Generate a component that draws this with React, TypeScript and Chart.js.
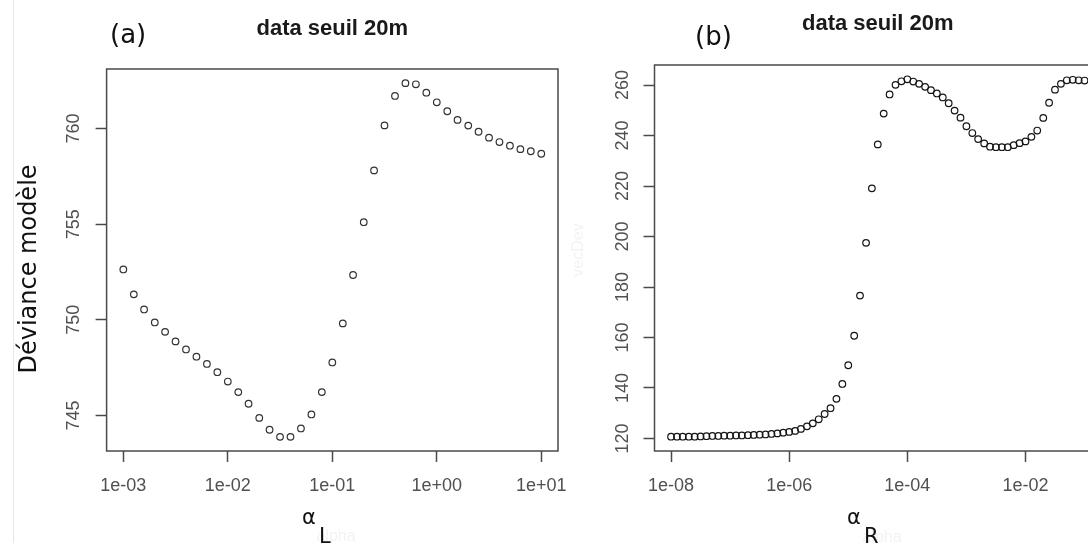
import React, { useEffect, useRef } from 'react';
import { Chart, registerables } from 'chart.js';

Chart.register(...registerables);

// ---------- data ----------
const alphaL = [
  0.001, 0.00126, 0.00158, 0.002, 0.00251, 0.00316, 0.00398, 0.00501, 0.00631, 0.00794,
  0.01, 0.0126, 0.0158, 0.02, 0.0251, 0.0316, 0.0398, 0.0501, 0.0631, 0.0794,
  0.1, 0.126, 0.158, 0.2, 0.251, 0.316, 0.398, 0.501, 0.631, 0.794,
  1, 1.26, 1.58, 2, 2.51, 3.16, 3.98, 5.01, 6.31, 7.94,
  10,
];
const devianceL = [
  752.63, 751.33, 750.54, 749.86, 749.37, 748.87, 748.45, 748.07, 747.69, 747.26,
  746.77, 746.22, 745.61, 744.87, 744.25, 743.88, 743.88, 744.32, 745.05, 746.22,
  747.77, 749.81, 752.34, 755.10, 757.81, 760.16, 761.70, 762.37, 762.31, 761.87,
  761.37, 760.90, 760.45, 760.15, 759.83, 759.52, 759.29, 759.10, 758.92, 758.81,
  758.68,
];

const alphaR = [
  1e-8, 1.26e-8, 1.58e-8, 2e-8, 2.51e-8, 3.16e-8, 3.98e-8, 5.01e-8, 6.31e-8, 7.94e-8,
  1e-7, 1.26e-7, 1.58e-7, 2e-7, 2.51e-7, 3.16e-7, 3.98e-7, 5.01e-7, 6.31e-7, 7.94e-7,
  1e-6, 1.26e-6, 1.58e-6, 2e-6, 2.51e-6, 3.16e-6, 3.98e-6, 5.01e-6, 6.31e-6, 7.94e-6,
  1e-5, 1.26e-5, 1.58e-5, 2e-5, 2.51e-5, 3.16e-5, 3.98e-5, 5.01e-5, 6.31e-5, 7.94e-5,
  1e-4, 1.26e-4, 1.58e-4, 2e-4, 2.51e-4, 3.16e-4, 3.98e-4, 5.01e-4, 6.31e-4, 7.94e-4,
  1e-3, 1.26e-3, 1.58e-3, 2e-3, 2.51e-3, 3.16e-3, 3.98e-3, 5.01e-3, 6.31e-3, 7.94e-3,
  1e-2, 1.26e-2, 1.58e-2, 2e-2, 2.51e-2, 3.16e-2, 3.98e-2, 5.01e-2, 6.31e-2, 7.94e-2,
  0.1,
];
const devianceR = [
  120.7, 120.7, 120.7, 120.7, 120.7, 120.8, 120.9, 121.0, 121.0, 121.1,
  121.1, 121.2, 121.2, 121.3, 121.4, 121.5, 121.6, 121.8, 122.0, 122.3,
  122.6, 123.0, 123.8, 124.8, 126.0, 127.6, 129.7, 132.0, 135.7, 141.6,
  149.0, 160.7, 176.6, 197.5, 219.1, 236.5, 248.7, 256.3, 260.1, 261.5,
  262.3, 261.4, 260.5, 259.3, 258.0, 256.7, 255.1, 252.8, 249.9, 247.1,
  243.7, 241.0, 238.6, 236.9, 235.6, 235.4, 235.4, 235.4, 236.2, 237.0,
  237.7, 239.5, 242.0, 247.0, 253.0, 258.2, 260.5, 261.9, 262.1, 261.9,
  261.8,
];

const xTicksL = [1e-3, 1e-2, 1e-1, 1, 10];
const xTicksR = [1e-8, 1e-6, 1e-4, 1e-2];
const yTicksL = [745, 750, 755, 760];
const yTicksR = [120, 140, 160, 180, 200, 220, 240, 260];

const TITLE = 'data seuil 20m';
const Y_LABEL = 'Déviance modèle';

// ---------- helpers ----------
const fmtSci = (v: number) => {
  const e = Math.round(Math.log10(v));
  return '1e' + (e < 0 ? '-' : '+') + String(Math.abs(e)).padStart(2, '0');
};

function rRange(vals: number[], log: boolean): [number, number] {
  const t = log ? vals.map((v) => Math.log10(v)) : vals;
  const lo = Math.min(...t);
  const hi = Math.max(...t);
  const d = (hi - lo) * 0.04;
  return log ? [Math.pow(10, lo - d), Math.pow(10, hi + d)] : [lo - d, hi + d];
}

const AXIS = '#4a4a4a';
const TICKTXT = '#505050';
const H = 543;

type PanelSpec = {
  xs: number[];
  ys: number[];
  xTicks: number[];
  yTicks: number[];
  canvasW: number;
  yWidth: number;
  padTop: number;
  padRight: number;
  yPad: number;
  mark: string;
  annotate: (ctx: CanvasRenderingContext2D, area: any) => void;
};

function makeConfig(p: PanelSpec): any {
  const [xmin, xmax] = rRange(p.xs, true);
  const [ymin, ymax] = rRange(p.ys, false);
  const tickFont = { family: 'Liberation Sans', size: 18 };
  const noOverhang = (s: any) => {
    s.paddingLeft = 0;
    s.paddingRight = 0;
    s.paddingTop = 0;
    s.paddingBottom = 0;
  };
  return {
    type: 'scatter',
    data: {
      datasets: [
        {
          data: p.xs.map((x, i) => ({ x, y: p.ys[i] })),
          pointStyle: 'circle',
          pointRadius: 3.3,
          pointHoverRadius: 3.3,
          pointBorderWidth: 1.2,
          borderColor: p.mark,
          backgroundColor: 'rgba(0,0,0,0)',
          showLine: false,
        },
      ],
    },
    options: {
      responsive: false,
      animation: false,
      devicePixelRatio: 1,
      events: [],
      layout: { padding: { left: 0, top: p.padTop, right: p.padRight, bottom: 0 } },
      plugins: { legend: { display: false }, tooltip: { enabled: false }, title: { display: false } },
      scales: {
        x: {
          type: 'logarithmic',
          position: 'bottom',
          bounds: 'data',
          min: xmin,
          max: xmax,
          afterBuildTicks: (s: any) => {
            s.ticks = p.xTicks.map((v) => ({ value: v }));
          },
          afterFit: (s: any) => {
            s.height = H - 451;
            noOverhang(s);
          },
          ticks: {
            callback: (v: any) => fmtSci(Number(v)),
            font: tickFont,
            color: TICKTXT,
            padding: 13,
            autoSkip: false,
            maxRotation: 0,
            minRotation: 0,
          },
          grid: {
            display: true,
            drawOnChartArea: false,
            drawTicks: true,
            tickLength: 11,
            tickColor: AXIS,
            tickWidth: 1.5,
          },
          border: { display: false },
        },
        y: {
          type: 'linear',
          position: 'left',
          bounds: 'data',
          min: ymin,
          max: ymax,
          afterBuildTicks: (s: any) => {
            s.ticks = p.yTicks.map((v) => ({ value: v }));
          },
          afterFit: (s: any) => {
            s.width = p.yWidth;
            noOverhang(s);
          },
          ticks: {
            callback: (v: any) => String(v),
            font: tickFont,
            color: TICKTXT,
            padding: p.yPad,
            minRotation: 90,
            maxRotation: 90,
            crossAlign: 'center',
            autoSkip: false,
          },
          grid: {
            display: true,
            drawOnChartArea: false,
            drawTicks: true,
            tickLength: 11,
            tickColor: AXIS,
            tickWidth: 1.5,
          },
          border: { display: false },
        },
      },
    },
    plugins: [
      {
        id: 'frameAndText',
        afterDraw(chart: any) {
          const ctx: CanvasRenderingContext2D = chart.ctx;
          const a = chart.chartArea;
          ctx.save();
          ctx.strokeStyle = AXIS;
          ctx.lineWidth = 1.5;
          ctx.strokeRect(a.left, a.top, a.right - a.left, a.bottom - a.top);
          ctx.restore();
          ctx.save();
          p.annotate(ctx, a);
          ctx.restore();
        },
      },
    ],
  };
}

function drawTitle(ctx: CanvasRenderingContext2D, a: any, baseline: number) {
  ctx.fillStyle = '#1a1a1a';
  ctx.font = 'bold 22px "Liberation Sans"';
  ctx.textAlign = 'center';
  ctx.textBaseline = 'alphabetic';
  ctx.fillText(TITLE, (a.left + a.right) / 2, baseline);
}

function drawAlpha(ctx: CanvasRenderingContext2D, x: number, sub: string) {
  ctx.fillStyle = '#111';
  ctx.textAlign = 'left';
  ctx.textBaseline = 'alphabetic';
  ctx.font = '21px "DejaVu Sans"';
  ctx.fillText('α', x, 524);
  ctx.font = '21px "DejaVu Sans"';
  ctx.fillText(sub, x + 17, 543);
}

function ghost(ctx: CanvasRenderingContext2D, text: string, x: number, y: number, rot: number) {
  ctx.save();
  ctx.fillStyle = '#f3f3f3';
  ctx.font = '16px "Liberation Sans"';
  ctx.textAlign = 'center';
  ctx.textBaseline = 'middle';
  ctx.translate(x, y);
  ctx.rotate(rot);
  ctx.fillText(text, 0, 0);
  ctx.restore();
}

const specA: PanelSpec = {
  xs: alphaL,
  ys: devianceL,
  xTicks: xTicksL,
  yTicks: yTicksL,
  canvasW: 600,
  yWidth: 106.6,
  padTop: 69,
  padRight: 42,
  yPad: 7,
  mark: '#333333',
  annotate: (ctx, a) => {
    ctx.strokeStyle = '#e8e8e8';
    ctx.lineWidth = 1;
    ctx.beginPath();
    ctx.moveTo(13.5, 0);
    ctx.lineTo(13.5, H);
    ctx.stroke();
    ctx.fillStyle = '#111';
    ctx.font = '26px "DejaVu Sans"';
    ctx.textAlign = 'left';
    ctx.textBaseline = 'alphabetic';
    ctx.fillText('(a)', 110, 43);
    drawTitle(ctx, a, 35);
    ctx.save();
    ctx.fillStyle = '#111';
    ctx.font = '24px "DejaVu Sans"';
    ctx.textAlign = 'center';
    ctx.textBaseline = 'alphabetic';
    ctx.translate(35.5, 269);
    ctx.rotate(-Math.PI / 2);
    ctx.fillText(Y_LABEL, 0, 0);
    ctx.restore();
    ghost(ctx, 'alpha', 336, 537, 0);
    drawAlpha(ctx, 302, 'L');
  },
};

const specB: PanelSpec = {
  xs: alphaR,
  ys: devianceR,
  xTicks: xTicksR,
  yTicks: yTicksR,
  canvasW: 560,
  yWidth: 94.5,
  padTop: 65,
  padRight: 18.9,
  yPad: 5.5,
  mark: '#151515',
  annotate: (ctx, a) => {
    ctx.fillStyle = '#111';
    ctx.font = '26px "DejaVu Sans"';
    ctx.textAlign = 'left';
    ctx.textBaseline = 'alphabetic';
    ctx.fillText('(b)', 135, 45);
    drawTitle(ctx, a, 30);
    ghost(ctx, 'vecDev', 19, 250, -Math.PI / 2);
    ghost(ctx, 'alpha', 322, 538, 0);
    drawAlpha(ctx, 287, 'R');
  },
};

function Panel({ left, spec }: { left: number; spec: PanelSpec }) {
  const ref = useRef<HTMLCanvasElement | null>(null);
  useEffect(() => {
    if (!ref.current) return;
    const chart = new Chart(ref.current, makeConfig(spec));
    return () => chart.destroy();
  }, [spec]);
  return (
    <canvas
      ref={ref}
      width={spec.canvasW}
      height={H}
      style={{ position: 'absolute', left, top: 0, width: spec.canvasW, height: H }}
    />
  );
}

export default function App() {
  return (
    <div
      style={{
        position: 'fixed',
        left: 0,
        top: 0,
        width: 1088,
        height: H,
        overflow: 'hidden',
        background: '#ffffff',
      }}
    >
      <Panel left={0} spec={specA} />
      <Panel left={560} spec={specB} />
    </div>
  );
}
